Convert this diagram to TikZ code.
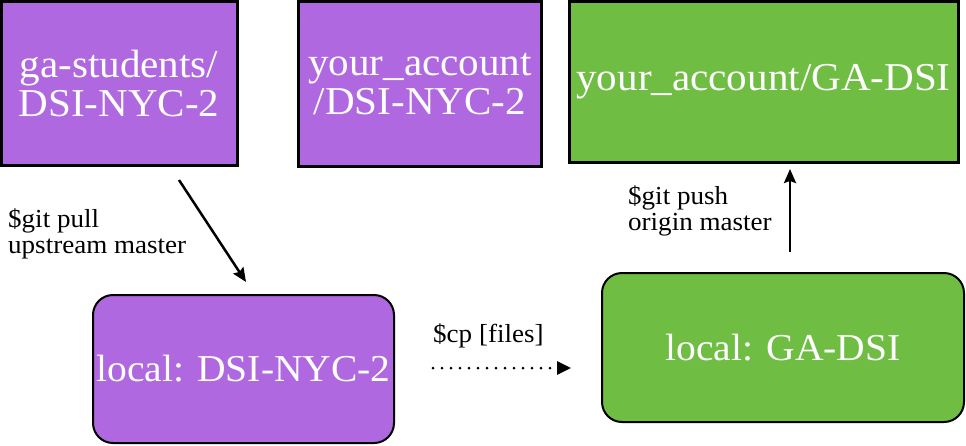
\documentclass[tikz,border=0pt]{standalone}
\usepackage{fontspec}
\setmainfont[FakeStretch=1.04]{Liberation Serif}
\usetikzlibrary{arrows.meta}
\definecolor{boxpurple}{RGB}{176,104,224}
\definecolor{boxgreen}{RGB}{111,190,67}
\begin{document}
\begin{tikzpicture}[x=1pt,y=-1pt,
  repo/.style={draw=black,line width=3pt,inner sep=0pt,align=center,text=white,
    font=\fontsize{39.5}{39}\selectfont},
  localrepo/.style={repo,line width=2pt,rounded corners=20pt,font=\fontsize{38}{39}\selectfont},
  cmd/.style={inner sep=0pt,align=left,anchor=base west,font=\fontsize{26}{26}\selectfont},
  flow/.style={line width=2.5pt,-{Stealth[length=14pt,width=12pt,inset=2pt]}},
  copyflow/.style={line width=3pt,line cap=round,dash pattern=on 0pt off 9pt,
    -{Triangle[length=14pt,width=13pt]}}]
\useasboundingbox (0,0) rectangle (966,445);
\fill[white] (0,0) rectangle (966,445);
\node[repo,fill=boxpurple,minimum width=236pt,minimum height=164pt] (up) at (119,83) {ga-students/\\DSI-NYC-2};
\node[repo,fill=boxpurple,minimum width=243pt,minimum height=165pt] (fork) at (420,84) {your\_account\\/DSI-NYC-2};
\node[repo,fill=boxgreen,minimum width=389pt,minimum height=161pt] (ga) at (763.5,82) {your\_account/GA-DSI};
\node[localrepo,fill=boxpurple,minimum width=301pt,minimum height=148pt] (loc) at (243.5,369) {local: DSI-NYC-2};
\node[localrepo,fill=boxgreen,minimum width=362pt,minimum height=149pt] (locga) at (783,347.5) {local: GA-DSI};
\coordinate (p1) at (179,180);
\coordinate (p2) at (246,282);
\coordinate (c1) at (433,368);
\coordinate (c2) at (571,368);
\coordinate (u1) at (790,252);
\coordinate (u2) at (790,169);
\draw[flow] (p1) -- (p2);
\draw[copyflow] (c1) -- (c2);
\draw[flow] (u1) -- (u2);
\node[cmd] (pull) at (8,253) {\$git pull\\upstream master};
\node[cmd] (cp) at (433,342) {\$cp [files]};
\node[cmd] (push) at (628,230) {\$git push\\origin master};
\end{tikzpicture}
\end{document}
